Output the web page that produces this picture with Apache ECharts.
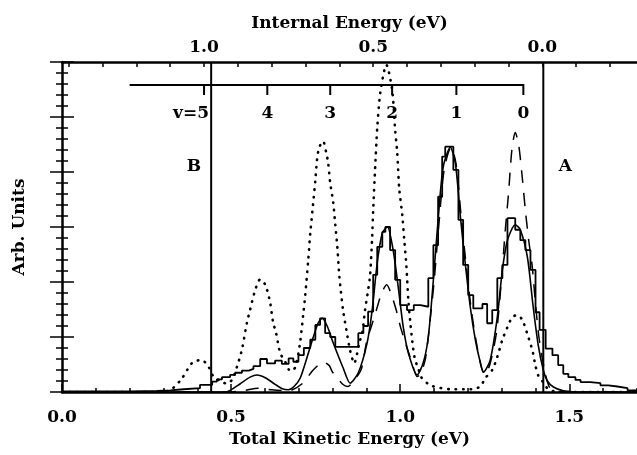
<!DOCTYPE html>
<html>
<head>
<meta charset="utf-8">
<script src="https://cdn.jsdelivr.net/npm/echarts@6/dist/echarts.min.js"></script>
<style>
html, body { margin: 0; padding: 0; background: #fff; }
#chart { width: 637px; height: 455px; }
</style>
</head>
<body>
<div id="chart"></div>
<script>
// measured histogram: left bin edges (eV) and heights (arb.)
const histEdges = [0.00,0.20,0.28,0.32,0.36,0.408,0.444,0.458,0.473,0.497,0.512,0.532,0.552,0.566,0.586,0.606,0.630,0.650,0.670,0.684,0.699,0.715,0.734,0.749,0.763,0.778,0.793,0.808,0.876,0.891,0.905,0.920,0.932,0.947,0.956,0.970,0.985,1.000,1.020,1.040,1.060,1.083,1.098,1.112,1.124,1.133,1.157,1.172,1.186,1.201,1.216,1.243,1.257,1.272,1.287,1.302,1.317,1.340,1.355,1.370,1.385,1.400,1.412,1.430,1.450,1.467,1.482,1.497,1.518,1.533,1.562,1.592,1.615,1.642,1.672];
const histCounts = [0.01,0.02,0.03,0.05,0.07,0.13,0.19,0.23,0.27,0.31,0.35,0.39,0.42,0.47,0.60,0.52,0.57,0.51,0.61,0.55,0.67,0.80,0.95,1.22,1.34,1.07,1.00,0.82,1.07,1.20,1.46,2.13,2.64,2.91,3.00,2.58,2.04,1.58,1.49,1.58,1.55,2.07,2.67,3.55,4.28,4.46,4.04,3.13,2.31,1.76,1.52,1.60,1.25,1.49,2.07,2.31,3.16,2.95,2.76,2.58,2.22,1.45,1.13,0.79,0.67,0.49,0.33,0.27,0.22,0.18,0.16,0.12,0.10,0.07,0.03];
const histEnd = 1.7;

// fit (solid)
const fitCurve = [[0,0],[0.48,0],[0.497,0.03],[0.527,0.15],[0.556,0.27],[0.577,0.31],[0.601,0.26],[0.630,0.14],[0.651,0.06],[0.669,0.04],[0.686,0.10],[0.704,0.25],[0.725,0.64],[0.743,1.0],[0.757,1.25],[0.769,1.34],[0.784,1.2],[0.802,0.89],[0.831,0.44],[0.852,0.16],[0.876,0.35],[0.902,0.89],[0.917,1.49],[0.932,2.35],[0.947,2.89],[0.962,3.0],[0.979,2.58],[0.994,1.91],[1.009,1.18],[1.024,0.71],[1.05,0.31],[1.068,0.53],[1.083,1.0],[1.098,2.04],[1.112,3.13],[1.127,4.09],[1.148,4.45],[1.163,4.16],[1.178,3.18],[1.192,2.35],[1.207,1.55],[1.222,0.95],[1.237,0.53],[1.246,0.36],[1.266,0.58],[1.287,1.36],[1.302,2.22],[1.317,2.76],[1.34,3.04],[1.355,2.95],[1.376,2.45],[1.393,1.55],[1.408,0.85],[1.423,0.4],[1.435,0.2],[1.453,0.09],[1.482,0.02],[1.52,0],[1.7,0]];

// model A (dashed)
const modelDashed = [[0,0],[0.50,0],[0.54,0.03],[0.58,0.07],[0.62,0.04],[0.67,0.02],[0.71,0.15],[0.74,0.38],[0.76,0.50],[0.775,0.54],[0.79,0.48],[0.80,0.36],[0.83,0.14],[0.845,0.10],[0.86,0.18],[0.885,0.42],[0.90,0.90],[0.915,1.20],[0.93,1.50],[0.945,1.80],[0.96,1.95],[0.975,1.75],[0.99,1.45],[1.00,1.20],[1.015,0.90],[1.03,0.62],[1.04,0.42],[1.05,0.28],[1.06,0.32],[1.075,0.62],[1.09,1.40],[1.10,2.00],[1.115,3.10],[1.13,4.05],[1.15,4.45],[1.165,4.15],[1.18,3.20],[1.195,2.30],[1.21,1.50],[1.225,0.90],[1.24,0.45],[1.25,0.32],[1.265,0.50],[1.285,1.10],[1.30,2.10],[1.31,2.90],[1.32,3.60],[1.33,4.40],[1.34,4.72],[1.35,4.50],[1.36,3.95],[1.37,3.30],[1.38,2.75],[1.39,2.30],[1.40,1.60],[1.41,1.00],[1.425,0.45],[1.44,0.10],[1.46,0],[1.7,0]];

// model B (dotted)
const modelDotted = [[0,0],[0.30,0],[0.328,0.07],[0.355,0.25],[0.37,0.40],[0.388,0.55],[0.414,0.58],[0.435,0.44],[0.447,0.29],[0.473,0.18],[0.49,0.15],[0.505,0.25],[0.521,0.53],[0.533,0.80],[0.547,1.27],[0.556,1.49],[0.571,1.85],[0.586,2.05],[0.601,1.95],[0.615,1.64],[0.624,1.27],[0.633,1.07],[0.645,0.71],[0.66,0.55],[0.675,0.38],[0.69,0.45],[0.704,0.9],[0.713,1.4],[0.719,1.75],[0.728,2.4],[0.734,2.89],[0.74,3.27],[0.749,3.85],[0.754,4.22],[0.76,4.44],[0.772,4.56],[0.781,4.36],[0.787,4.16],[0.793,3.8],[0.802,3.44],[0.808,3.04],[0.814,2.64],[0.82,2.1],[0.831,1.49],[0.843,1.05],[0.852,0.75],[0.864,0.52],[0.873,0.71],[0.879,0.89],[0.888,1.09],[0.896,1.49],[0.905,1.85],[0.911,2.13],[0.917,2.82],[0.92,3.3],[0.926,4.1],[0.932,4.8],[0.941,5.44],[0.959,5.95],[0.976,5.5],[0.985,4.76],[0.991,4.36],[0.997,3.7],[1.006,3.22],[1.012,2.76],[1.018,2.31],[1.024,1.67],[1.03,1.25],[1.038,0.8],[1.044,0.58],[1.053,0.44],[1.062,0.27],[1.09,0.12],[1.15,0.05],[1.21,0.05],[1.237,0.10],[1.251,0.25],[1.272,0.40],[1.287,0.64],[1.302,0.95],[1.317,1.18],[1.331,1.36],[1.346,1.40],[1.361,1.31],[1.376,1.05],[1.391,0.75],[1.399,0.50],[1.408,0.30],[1.42,0.20],[1.438,0.05],[1.47,0],[1.7,0]];

// vibrational levels (total KE of each v) and their labels
const vibTke = [1.364, 1.166, 0.976, 0.793, 0.607, 0.420];
const vibLabels = ['0', '1', '2', '3', '4', 'v=5'];

// thresholds A and B (total KE)
const limitTke = [1.423, 0.441];
const limitLabels = ['A', 'B'];

// top axis: internal energy = E0 - total KE
const E0 = 1.42;
const topLabels = [1.0, 0.5, 0.0];
const bottomLabels = [0.0, 0.5, 1.0, 1.5];

const black = '#000';
const font = { fontFamily: 'DejaVu Serif', fontWeight: 'bold', fontSize: 17, color: black };

const histData = histEdges.map((x, i) => [x, histCounts[i]]);
histData.push([histEnd, histCounts[histCounts.length - 1]]);

const topTicks = [];
for (let k = 14; k >= -2; k--) topTicks.push(k / 10);

// vibrational ladder near the top
const barY = 5.58, barTick = 0.18, barStart = 0.20, vibTextY = 5.07, limitTextY = 4.09;
const segs = [
  { coords: [[barStart, barY], [vibTke[0], barY], [vibTke[0], barY - barTick]] }
];
vibTke.slice(1).forEach(x => segs.push({ coords: [[x, barY], [x, barY - barTick]] }));
limitTke.forEach(x => segs.push({ coords: [[x, 0], [x, 6]] }));

const chart = echarts.init(document.getElementById('chart'));

const tickStyle = { color: black, width: 1.5 };
const textLabel = Object.assign({ show: true, position: 'inside', textBorderWidth: 0 }, font);

chart.setOption({
  animation: false,
  backgroundColor: '#fff',
  grid: { left: 62, right: 0, top: 62, bottom: 63 },
  xAxis: [
    {
      type: 'value', position: 'bottom', min: 0, max: 1.7, interval: 0.1,
      axisLine: { lineStyle: { color: black, width: 2.5 } },
      axisTick: { inside: true, length: 4, lineStyle: tickStyle },
      axisLabel: { show: false },
      splitLine: { show: false }
    },
    {
      type: 'value', position: 'bottom', min: 0, max: 1.7,
      axisLine: { show: false },
      axisTick: { inside: true, length: 8, lineStyle: tickStyle, customValues: bottomLabels },
      axisLabel: Object.assign({ margin: 17, customValues: bottomLabels, formatter: v => v.toFixed(1) }, font),
      splitLine: { show: false },
      name: 'Total Kinetic Energy (eV)', nameLocation: 'middle', nameGap: 38,
      nameTextStyle: font
    },
    {
      type: 'value', position: 'top', min: E0 - 1.7, max: E0, inverse: true,
      axisLine: { lineStyle: { color: black, width: 2.5 } },
      axisTick: { inside: true, length: 5, lineStyle: tickStyle, customValues: topTicks },
      axisLabel: Object.assign({ margin: 6, customValues: topLabels, formatter: v => v.toFixed(1) }, font),
      splitLine: { show: false },
      name: 'Internal Energy (eV)', nameLocation: 'middle', nameGap: 30,
      nameTextStyle: font
    }
  ],
  yAxis: [
    {
      type: 'value', position: 'left', min: 0, max: 6, interval: 1,
      axisLine: { lineStyle: { color: black, width: 2.5 } },
      axisTick: { inside: true, length: 12, lineStyle: tickStyle },
      minorTick: { show: true, splitNumber: 5, length: 6, lineStyle: tickStyle },
      axisLabel: { show: false },
      splitLine: { show: false },
      name: 'Arb. Units', nameLocation: 'middle', nameGap: 34,
      nameTextStyle: font
    },
    {
      type: 'value', position: 'right', min: 0, max: 6, interval: 1,
      axisLine: { show: false },
      axisTick: { show: true, inside: true, length: 12, lineStyle: tickStyle },
      minorTick: { show: true, splitNumber: 5, length: 6, lineStyle: tickStyle },
      axisLabel: { show: false },
      splitLine: { show: false }
    }
  ],
  series: [
    {
      name: 'data', type: 'line', data: histData, step: 'end', symbol: 'none',
      lineStyle: { color: black, width: 1.8 }, z: 3
    },
    {
      name: 'fit', type: 'line', data: fitCurve, smooth: 0.25, symbol: 'none',
      lineStyle: { color: black, width: 1.6 }, z: 4
    },
    {
      name: 'dashed', type: 'line', data: modelDashed, smooth: 0.25, symbol: 'none',
      lineStyle: { color: black, width: 1.5, type: [13, 10] }, z: 2
    },
    {
      name: 'dotted', type: 'line', data: modelDotted, smooth: 0.25, symbol: 'none',
      lineStyle: { color: black, width: 2.6, type: [0.5, 7], cap: 'round' }, z: 2
    },
    {
      name: 'marks', type: 'lines', coordinateSystem: 'cartesian2d', polyline: true,
      data: segs, silent: true, z: 5,
      lineStyle: { color: black, width: 2, opacity: 1 }
    },
    {
      name: 'vib labels', type: 'scatter', symbolSize: 1, silent: true,
      itemStyle: { color: 'rgba(0,0,0,0)', opacity: 1 },
      data: vibTke.map((x, i) => ({
        value: [x, vibTextY],
        label: { formatter: vibLabels[i], offset: i === 5 ? [-13, 0] : [0, 0] }
      })),
      label: textLabel
    },
    {
      name: 'limit labels', type: 'scatter', symbolSize: 1, silent: true,
      itemStyle: { color: 'rgba(0,0,0,0)', opacity: 1 },
      data: [
        { value: [1.488, limitTextY], label: { formatter: limitLabels[0] } },
        { value: [0.390, limitTextY], label: { formatter: limitLabels[1] } }
      ],
      label: textLabel
    }
  ]
});
</script>
</body>
</html>
